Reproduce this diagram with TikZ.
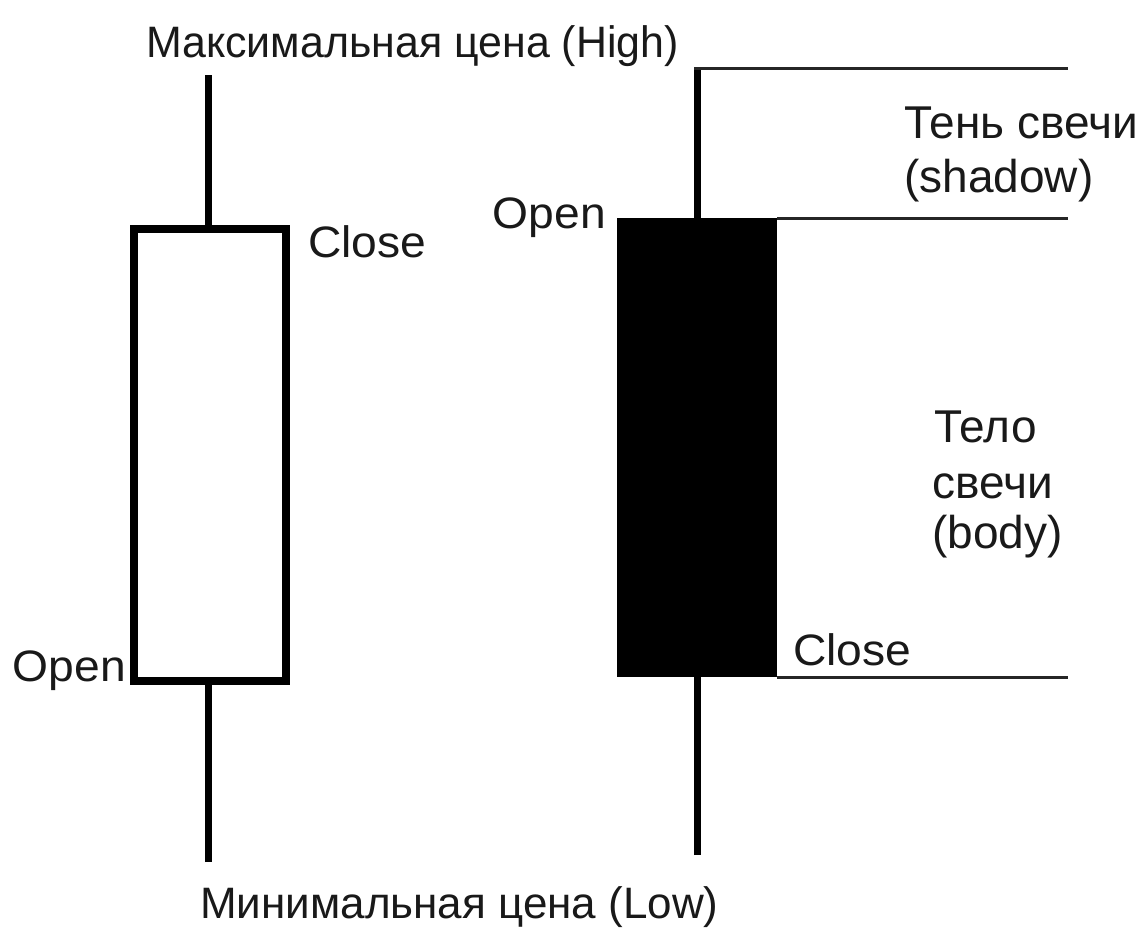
\documentclass[tikz,border=0pt]{standalone}
\usepackage{fontspec}
\setmainfont{Liberation Sans}
\begin{document}
\begin{tikzpicture}[x=1pt,y=-1pt,
  lbl/.style={inner sep=0pt,font=\fontsize{44}{50}\selectfont,text=black!90},
  biglbl/.style={inner sep=0pt,font=\fontsize{46}{52}\selectfont,text=black!90},
  wick/.style={line width=7pt,black},
  guide/.style={line width=3pt,black!85},
  ]
\useasboundingbox[fill=white] (0,0) rectangle (1142,927);
% left (bullish) candle
\coordinate (LT) at (208,75);
\coordinate (LB) at (208,862);
\node[draw=black,line width=8pt,fill=white,minimum width=152pt,minimum height=452pt,inner sep=0pt,outer sep=0pt] (lbody) at (210,455) {};
\draw[wick] (LT) -- (LT |- lbody.north);
\draw[wick] (LB) -- (LB |- lbody.south);
% right (bearish) candle
\coordinate (RT) at (697,68);
\coordinate (RB) at (697,855);
\node[fill=black,minimum width=160pt,minimum height=459pt,inner sep=0pt,outer sep=0pt] (rbody) at (697,447.5) {};
\draw[wick] (RT) -- (RT |- rbody.north);
\draw[wick] (RB) -- (RB |- rbody.south);
% guide lines
\coordinate (GT) at (1068,68);
\coordinate (GM) at (1068,218);
\coordinate (GB) at (1068,677);
\draw[guide] ([xshift=-3pt]RT) -- (GT);
\draw[guide] (rbody.north east) -- (GM);
\draw[guide] (rbody.south east) -- (GB);
% labels
\node[lbl,anchor=base west,xscale=0.975] (high) at (146,57) {Максимальная цена (High)};
\node[lbl,anchor=base west,xscale=1.05] (lclose) at (308,257) {Close};
\node[lbl,anchor=base east,xscale=1.05] (lopen) at (126,681) {Open};
\node[lbl,anchor=base east,xscale=1.05] (ropen) at (606,228) {Open};
\node[lbl,anchor=base west,xscale=1.05] (rclose) at (793,665) {Close};
\node[lbl,anchor=base west] (low) at (200,918) {Минимальная цена (Low)};
\node[biglbl,anchor=base west] (shadow1) at (904,138) {Тень свечи};
\node[biglbl,anchor=base west] (shadow2) at (904,192) {(shadow)};
\node[biglbl,anchor=base west] (body1) at (934,442) {Тело};
\node[biglbl,anchor=base west] (body2) at (932,498) {свечи};
\node[biglbl,anchor=base west] (body3) at (932,548) {(body)};
\end{tikzpicture}
\end{document}
